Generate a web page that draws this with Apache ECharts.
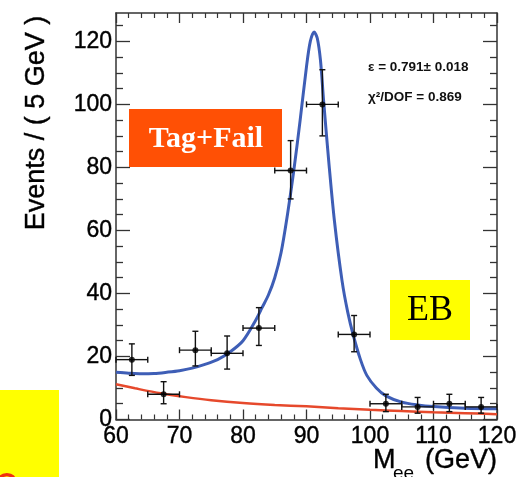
<!DOCTYPE html>
<html>
<head>
<meta charset="utf-8">
<script src="https://cdn.jsdelivr.net/npm/echarts@6/dist/echarts.min.js"></script>
<style>
  html, body { margin: 0; padding: 0; background: #fff; }
  #chart { width: 521px; height: 477px; }
</style>
</head>
<body>
<div id="chart"></div>
<script>
// Binned invariant-mass data (5 GeV bins)
const binCenters = [62.5, 67.5, 72.5, 77.5, 82.5, 87.5, 92.5, 97.5, 102.5, 107.5, 112.5, 117.5];
const counts     = [19, 8, 22, 21, 29, 79, 100, 27, 5, 4, 5, 4];
const errDown    = [5, 3, 5, 5, 5.5, 9, 10, 5.5, 2.5, 2, 2.5, 2];
const errUp      = [5, 4, 6, 5.5, 6.5, 9.5, 11, 6, 3, 3, 3, 3];
const binHalfWidth = 2.5;

// Total fit (signal + background)
const fitTotalX = [60, 62, 64, 66, 68, 70, 72, 74, 76, 78, 80, 82, 83, 84, 85, 86, 87, 88, 89, 90, 90.6, 91.2, 91.7, 92.2, 92.7, 93.5, 94.4, 95.6, 96.5, 97.4, 98.5, 99.5, 101, 102.5, 105, 107.5, 110, 115, 120];
const fitTotalY = [15, 14.7, 14.5, 14.6, 15, 15.5, 16.3, 17.5, 19, 21.5, 25, 31.5, 35.5, 39.5, 45, 53, 65, 79, 95, 112, 120, 123, 121, 114, 101, 82, 63, 44, 34, 26.5, 19, 14, 10, 7.5, 5.5, 4.6, 4.1, 3.6, 3.4];

// Background component of the fit
const fitBkgX = [60, 63, 67, 71, 75, 80, 85, 90, 95, 100, 105, 110, 115, 120];
const fitBkgY = [11.2, 9.9, 8.3, 7.1, 6.1, 5.2, 4.6, 4.2, 3.6, 3.1, 2.7, 2.3, 2.0, 1.7];

// Axis ranges and tick positions
const xRange = [60, 120];
const xMajor = 10;
const yRange = [0, 129];
const yMajorTicks = [0, 20, 40, 60, 80, 100, 120];
const yMinorTicks = [5, 10, 15, 25, 30, 35, 45, 50, 55, 65, 70, 75, 85, 90, 95, 105, 110, 115, 125];

const fitText1 = '\u03b5 = 0.791\u00b1 0.018';
const fitText2 = '\u03c7\u00b2/DOF = 0.869';

const FONT = '"Liberation Sans", Arial, Helvetica, sans-serif';
const AXIS_COLOR = '#333';

const chart = echarts.init(document.getElementById('chart'), null, { renderer: 'canvas' });

function zip(xs, ys) { return xs.map((x, i) => [x, ys[i]]); }

function renderErrorBar(params, api) {
  const x = api.value(0), y = api.value(1), lo = api.value(2), hi = api.value(3);
  const c = api.coord([x, y]);
  const top = api.coord([x, y + hi]);
  const bot = api.coord([x, y - lo]);
  const left = api.coord([x - binHalfWidth, y]);
  const right = api.coord([x + binHalfWidth, y]);
  const cap = 3;
  const style = { stroke: '#111', lineWidth: 1.4 };
  const seg = (x1, y1, x2, y2) => ({ type: 'line', shape: { x1, y1, x2, y2 }, style });
  return {
    type: 'group',
    children: [
      seg(c[0], top[1], c[0], bot[1]),
      seg(c[0] - cap, top[1], c[0] + cap, top[1]),
      seg(c[0] - cap, bot[1], c[0] + cap, bot[1]),
      seg(left[0], c[1], right[0], c[1]),
      seg(left[0], c[1] - cap, left[0], c[1] + cap),
      seg(right[0], c[1] - cap, right[0], c[1] + cap)
    ]
  };
}

const lineStyleAxis = { color: AXIS_COLOR, width: 1.5 };

function xAxisDef(position, showLabel) {
  return {
    type: 'value', position, min: xRange[0], max: xRange[1], interval: xMajor,
    axisLine: { show: true, onZero: false, lineStyle: lineStyleAxis },
    axisTick: { show: true, inside: true, length: 10, lineStyle: { color: AXIS_COLOR, width: 1.3 } },
    minorTick: { show: true, splitNumber: 5, length: 5, lineStyle: { color: AXIS_COLOR, width: 1.2 } },
    splitLine: { show: false },
    axisLabel: { show: showLabel, fontSize: 23, color: '#000', fontFamily: FONT, margin: 6,
                 textBorderColor: '#000', textBorderWidth: 0.4 }
  };
}

function yAxisDef(position, major, showLine, showLabel) {
  return {
    type: 'value', position, min: yRange[0], max: yRange[1],
    axisLine: { show: showLine, onZero: false, lineStyle: lineStyleAxis },
    axisTick: {
      show: true, inside: true, length: major ? 14 : 7,
      customValues: major ? yMajorTicks : yMinorTicks,
      lineStyle: { color: AXIS_COLOR, width: 1.3 }
    },
    splitLine: { show: false },
    axisLabel: {
      show: showLabel, customValues: yMajorTicks,
      fontSize: 23, color: '#000', fontFamily: FONT, margin: 4,
      textBorderColor: '#000', textBorderWidth: 0.4
    }
  };
}

const option = {
  animation: false,
  backgroundColor: '#fff',
  grid: { left: 116, right: 24, top: 13, bottom: 57.5, containLabel: false },
  xAxis: [xAxisDef('bottom', true), xAxisDef('top', false)],
  yAxis: [
    yAxisDef('left', true, true, true),
    yAxisDef('left', false, false, false),
    yAxisDef('right', true, true, false),
    yAxisDef('right', false, false, false)
  ],
  series: [
    {
      type: 'line', data: zip(fitBkgX, fitBkgY), smooth: 0.3, showSymbol: false,
      lineStyle: { color: '#e6492c', width: 2.5 }, z: 2
    },
    {
      type: 'line', data: zip(fitTotalX, fitTotalY), smooth: 0.3, showSymbol: false,
      lineStyle: { color: '#3e5eb6', width: 3 }, z: 3
    },
    {
      type: 'custom', renderItem: renderErrorBar,
      data: binCenters.map((x, i) => [x, counts[i], errDown[i], errUp[i]]),
      encode: { x: 0, y: 1 }, z: 4
    },
    {
      type: 'scatter', data: zip(binCenters, counts), symbol: 'circle', symbolSize: 6,
      itemStyle: { color: '#000' }, z: 5
    }
  ],
  graphic: [
    // y-axis title
    {
      type: 'text', x: 37, y: 123, rotation: Math.PI / 2,
      style: { text: 'Events / ( 5 GeV )', font: '27px ' + FONT, fill: '#000',
               stroke: '#000', lineWidth: 0.4,
               align: 'center', verticalAlign: 'middle', textAlign: 'center', textVerticalAlign: 'middle' }
    },
    // x-axis title
    {
      type: 'text', x: 373, y: 461,
      style: { text: 'M', font: '27px ' + FONT, fill: '#000', stroke: '#000', lineWidth: 0.4,
               align: 'left', verticalAlign: 'middle', textAlign: 'left', textVerticalAlign: 'middle' }
    },
    {
      type: 'text', x: 393, y: 474,
      style: { text: 'ee', font: '19px ' + FONT, fill: '#000', align: 'left', verticalAlign: 'middle',
               textAlign: 'left', textVerticalAlign: 'middle' }
    },
    {
      type: 'text', x: 497, y: 461,
      style: { text: '(GeV)', font: '27px ' + FONT, fill: '#000', stroke: '#000', lineWidth: 0.4,
               align: 'right', verticalAlign: 'middle', textAlign: 'right', textVerticalAlign: 'middle' }
    },
    // fit results
    {
      type: 'text', x: 368, y: 67,
      style: { text: fitText1, font: 'bold 13.5px ' + FONT, fill: '#111', align: 'left', verticalAlign: 'middle',
               textAlign: 'left', textVerticalAlign: 'middle' }
    },
    {
      type: 'text', x: 368, y: 97,
      style: { text: fitText2, font: 'bold 13.5px ' + FONT, fill: '#111', align: 'left', verticalAlign: 'middle',
               textAlign: 'left', textVerticalAlign: 'middle' }
    },
    // category boxes
    {
      type: 'rect', shape: { x: 129, y: 109, width: 153, height: 58 }, style: { fill: '#ff5005' }, z: 10
    },
    {
      type: 'text', x: 206, y: 139, z: 11,
      style: { text: 'Tag+Fail', font: 'bold 30px "Liberation Serif", "Times New Roman", serif', fill: '#fff',
               align: 'center', verticalAlign: 'middle', textAlign: 'center', textVerticalAlign: 'middle' }
    },
    {
      type: 'rect', shape: { x: 390, y: 280, width: 80, height: 60 }, style: { fill: '#ffff00' }, z: 10
    },
    {
      type: 'text', x: 430, y: 311, z: 11,
      style: { text: 'EB', font: '36px "Liberation Serif", "Times New Roman", serif', fill: '#000',
               align: 'center', verticalAlign: 'middle', textAlign: 'center', textVerticalAlign: 'middle' }
    },
    {
      type: 'rect', shape: { x: 0, y: 390, width: 59, height: 87 }, style: { fill: '#ffff00' }, z: 10
    },
    {
      type: 'text', x: -4, y: 470, z: 11,
      style: { text: 'O', font: 'bold 28px ' + FONT, fill: '#f03010', align: 'left', verticalAlign: 'top',
               textAlign: 'left', textVerticalAlign: 'top' }
    }
  ]
};

chart.setOption(option);
</script>
</body>
</html>
